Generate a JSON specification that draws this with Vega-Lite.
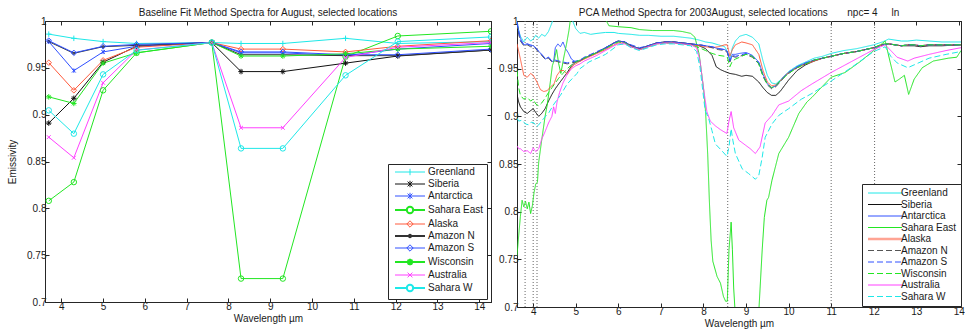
{
"$schema": "https://vega.github.io/schema/vega-lite/v6.json",
"background": "white",
"padding": {"left": 7, "top": 7, "right": 0, "bottom": 0},
"config": {
  "font": "Liberation Sans",
  "view": {"stroke": "#262626", "strokeWidth": 1},
  "axis": {"labelFontSize": 10, "labelColor": "#1a1a1a", "titleFontSize": 10, "titleFontWeight": "normal", "titleColor": "#1a1a1a", "grid": false, "domainColor": "#262626", "tickColor": "#262626", "tickSize": -4, "labelPadding": 3, "labelFont": "Liberation Sans", "titleFont": "Liberation Sans"},
  "title": {"fontSize": 10, "fontWeight": "normal", "anchor": "middle", "offset": -2, "frame": "group", "color": "#1a1a1a", "font": "Liberation Sans"},
  "legend": {"labelFontSize": 10, "labelFont": "Liberation Sans", "labelColor": "#1a1a1a"}
},
"datasets": {
"base": [
{"s":"Greenland","w":3.7,"e":0.986},{"s":"Greenland","w":4.3,"e":0.9815},{"s":"Greenland","w":5.0,"e":0.978},{"s":"Greenland","w":5.8,"e":0.976},{"s":"Greenland","w":7.6,"e":0.977},{"s":"Greenland","w":8.3,"e":0.976},{"s":"Greenland","w":9.3,"e":0.976},{"s":"Greenland","w":10.8,"e":0.9815},{"s":"Greenland","w":12.05,"e":0.976},{"s":"Greenland","w":14.28,"e":0.978},
{"s":"Siberia","w":3.7,"e":0.891},{"s":"Siberia","w":4.3,"e":0.9175},{"s":"Siberia","w":5.0,"e":0.956},{"s":"Siberia","w":5.8,"e":0.973},{"s":"Siberia","w":7.6,"e":0.977},{"s":"Siberia","w":8.3,"e":0.946},{"s":"Siberia","w":9.3,"e":0.946},{"s":"Siberia","w":10.8,"e":0.955},{"s":"Siberia","w":12.05,"e":0.9626},{"s":"Siberia","w":14.28,"e":0.969},
{"s":"Antarctica","w":3.7,"e":0.978},{"s":"Antarctica","w":4.3,"e":0.947},{"s":"Antarctica","w":5.0,"e":0.967},{"s":"Antarctica","w":5.8,"e":0.973},{"s":"Antarctica","w":7.6,"e":0.977},{"s":"Antarctica","w":8.3,"e":0.966},{"s":"Antarctica","w":9.3,"e":0.966},{"s":"Antarctica","w":10.8,"e":0.963},{"s":"Antarctica","w":12.05,"e":0.970},{"s":"Antarctica","w":14.28,"e":0.976},
{"s":"Sahara East","w":3.7,"e":0.808},{"s":"Sahara East","w":4.3,"e":0.828},{"s":"Sahara East","w":5.0,"e":0.926},{"s":"Sahara East","w":5.8,"e":0.966},{"s":"Sahara East","w":7.6,"e":0.977},{"s":"Sahara East","w":8.3,"e":0.725},{"s":"Sahara East","w":9.3,"e":0.725},{"s":"Sahara East","w":10.8,"e":0.962},{"s":"Sahara East","w":12.05,"e":0.984},{"s":"Sahara East","w":14.28,"e":0.989},
{"s":"Alaska","w":3.7,"e":0.9555},{"s":"Alaska","w":4.3,"e":0.926},{"s":"Alaska","w":5.0,"e":0.958},{"s":"Alaska","w":5.8,"e":0.972},{"s":"Alaska","w":7.6,"e":0.977},{"s":"Alaska","w":8.3,"e":0.970},{"s":"Alaska","w":9.3,"e":0.970},{"s":"Alaska","w":10.8,"e":0.967},{"s":"Alaska","w":12.05,"e":0.973},{"s":"Alaska","w":14.28,"e":0.979},
{"s":"Amazon N","w":3.7,"e":0.978},{"s":"Amazon N","w":4.3,"e":0.9655},{"s":"Amazon N","w":5.0,"e":0.9726},{"s":"Amazon N","w":5.8,"e":0.974},{"s":"Amazon N","w":7.6,"e":0.977},{"s":"Amazon N","w":8.3,"e":0.964},{"s":"Amazon N","w":9.3,"e":0.964},{"s":"Amazon N","w":10.8,"e":0.963},{"s":"Amazon N","w":12.05,"e":0.963},{"s":"Amazon N","w":14.28,"e":0.969},
{"s":"Amazon S","w":3.7,"e":0.979},{"s":"Amazon S","w":4.3,"e":0.966},{"s":"Amazon S","w":5.0,"e":0.973},{"s":"Amazon S","w":5.8,"e":0.975},{"s":"Amazon S","w":7.6,"e":0.977},{"s":"Amazon S","w":8.3,"e":0.967},{"s":"Amazon S","w":9.3,"e":0.967},{"s":"Amazon S","w":10.8,"e":0.964},{"s":"Amazon S","w":12.05,"e":0.964},{"s":"Amazon S","w":14.28,"e":0.970},
{"s":"Wisconsin","w":3.7,"e":0.919},{"s":"Wisconsin","w":4.3,"e":0.912},{"s":"Wisconsin","w":5.0,"e":0.955},{"s":"Wisconsin","w":5.8,"e":0.966},{"s":"Wisconsin","w":7.6,"e":0.977},{"s":"Wisconsin","w":8.3,"e":0.9626},{"s":"Wisconsin","w":9.3,"e":0.9626},{"s":"Wisconsin","w":10.8,"e":0.965},{"s":"Wisconsin","w":12.05,"e":0.970},{"s":"Wisconsin","w":14.28,"e":0.973},
{"s":"Australia","w":3.7,"e":0.876},{"s":"Australia","w":4.3,"e":0.854},{"s":"Australia","w":5.0,"e":0.934},{"s":"Australia","w":5.8,"e":0.969},{"s":"Australia","w":7.6,"e":0.977},{"s":"Australia","w":8.3,"e":0.886},{"s":"Australia","w":9.3,"e":0.886},{"s":"Australia","w":10.8,"e":0.961},{"s":"Australia","w":12.05,"e":0.972},{"s":"Australia","w":14.28,"e":0.977},
{"s":"Sahara W","w":3.7,"e":0.9046},{"s":"Sahara W","w":4.3,"e":0.8797},{"s":"Sahara W","w":5.0,"e":0.943},{"s":"Sahara W","w":5.8,"e":0.9687},{"s":"Sahara W","w":7.6,"e":0.977},{"s":"Sahara W","w":8.3,"e":0.864},{"s":"Sahara W","w":9.3,"e":0.864},{"s":"Sahara W","w":10.8,"e":0.942},{"s":"Sahara W","w":12.05,"e":0.978},{"s":"Sahara W","w":14.28,"e":0.983}
],
"pca": [
{"s":"Greenland","w":3.62,"e":0.999},{"s":"Greenland","w":3.66,"e":0.99},{"s":"Greenland","w":3.7,"e":0.984},{"s":"Greenland","w":3.78,"e":0.978},{"s":"Greenland","w":3.86,"e":0.983},{"s":"Greenland","w":3.94,"e":0.979},{"s":"Greenland","w":4.0,"e":0.981},{"s":"Greenland","w":4.06,"e":0.985},{"s":"Greenland","w":4.13,"e":0.982},{"s":"Greenland","w":4.2,"e":0.986},{"s":"Greenland","w":4.28,"e":0.984},{"s":"Greenland","w":4.36,"e":0.989},{"s":"Greenland","w":4.44,"e":0.998},{"s":"Greenland","w":4.52,"e":1.012},{"s":"Greenland","w":4.62,"e":1.02},{"s":"Greenland","w":4.72,"e":1.02},{"s":"Greenland","w":4.82,"e":1.01},{"s":"Greenland","w":4.9,"e":1.003},{"s":"Greenland","w":5.0,"e":0.992},{"s":"Greenland","w":5.1,"e":0.987},{"s":"Greenland","w":5.2,"e":0.988},{"s":"Greenland","w":5.35,"e":0.986},{"s":"Greenland","w":5.5,"e":0.987},{"s":"Greenland","w":5.7,"e":0.988},{"s":"Greenland","w":5.9,"e":0.988},{"s":"Greenland","w":6.0,"e":0.987},{"s":"Greenland","w":6.3,"e":0.986},{"s":"Greenland","w":6.5,"e":0.985},{"s":"Greenland","w":6.7,"e":0.985},{"s":"Greenland","w":7.0,"e":0.984},{"s":"Greenland","w":7.3,"e":0.984},{"s":"Greenland","w":7.5,"e":0.983},{"s":"Greenland","w":7.7,"e":0.982},{"s":"Greenland","w":7.9,"e":0.98},{"s":"Greenland","w":8.05,"e":0.978},{"s":"Greenland","w":8.2,"e":0.977},{"s":"Greenland","w":8.35,"e":0.975},{"s":"Greenland","w":8.5,"e":0.973},{"s":"Greenland","w":8.56,"e":0.968},{"s":"Greenland","w":8.62,"e":0.96},{"s":"Greenland","w":8.68,"e":0.972},{"s":"Greenland","w":8.75,"e":0.979},{"s":"Greenland","w":8.85,"e":0.984},{"s":"Greenland","w":9.0,"e":0.986},{"s":"Greenland","w":9.15,"e":0.983},{"s":"Greenland","w":9.3,"e":0.976},{"s":"Greenland","w":9.4,"e":0.958},{"s":"Greenland","w":9.5,"e":0.943},{"s":"Greenland","w":9.6,"e":0.935},{"s":"Greenland","w":9.7,"e":0.934},{"s":"Greenland","w":9.8,"e":0.938},{"s":"Greenland","w":9.9,"e":0.942},{"s":"Greenland","w":10.0,"e":0.947},{"s":"Greenland","w":10.2,"e":0.953},{"s":"Greenland","w":10.4,"e":0.957},{"s":"Greenland","w":10.6,"e":0.961},{"s":"Greenland","w":10.8,"e":0.963},{"s":"Greenland","w":11.0,"e":0.966},{"s":"Greenland","w":11.3,"e":0.969},{"s":"Greenland","w":11.6,"e":0.971},{"s":"Greenland","w":12.0,"e":0.975},{"s":"Greenland","w":12.2,"e":0.978},{"s":"Greenland","w":12.35,"e":0.981},{"s":"Greenland","w":12.5,"e":0.98},{"s":"Greenland","w":12.65,"e":0.979},{"s":"Greenland","w":12.8,"e":0.979},{"s":"Greenland","w":13.0,"e":0.98},{"s":"Greenland","w":13.3,"e":0.979},{"s":"Greenland","w":13.6,"e":0.978},{"s":"Greenland","w":14.05,"e":0.978},
{"s":"Siberia","w":3.62,"e":0.923},{"s":"Siberia","w":3.66,"e":0.915},{"s":"Siberia","w":3.7,"e":0.91},{"s":"Siberia","w":3.78,"e":0.905},{"s":"Siberia","w":3.86,"e":0.903},{"s":"Siberia","w":3.94,"e":0.906},{"s":"Siberia","w":4.0,"e":0.908},{"s":"Siberia","w":4.06,"e":0.904},{"s":"Siberia","w":4.13,"e":0.9},{"s":"Siberia","w":4.2,"e":0.903},{"s":"Siberia","w":4.28,"e":0.908},{"s":"Siberia","w":4.36,"e":0.916},{"s":"Siberia","w":4.44,"e":0.923},{"s":"Siberia","w":4.52,"e":0.929},{"s":"Siberia","w":4.6,"e":0.934},{"s":"Siberia","w":4.7,"e":0.94},{"s":"Siberia","w":4.8,"e":0.946},{"s":"Siberia","w":4.9,"e":0.953},{"s":"Siberia","w":5.0,"e":0.957},{"s":"Siberia","w":5.1,"e":0.958},{"s":"Siberia","w":5.2,"e":0.961},{"s":"Siberia","w":5.35,"e":0.964},{"s":"Siberia","w":5.5,"e":0.967},{"s":"Siberia","w":5.7,"e":0.972},{"s":"Siberia","w":5.9,"e":0.977},{"s":"Siberia","w":6.0,"e":0.979},{"s":"Siberia","w":6.15,"e":0.978},{"s":"Siberia","w":6.3,"e":0.974},{"s":"Siberia","w":6.5,"e":0.971},{"s":"Siberia","w":6.7,"e":0.974},{"s":"Siberia","w":6.9,"e":0.977},{"s":"Siberia","w":7.1,"e":0.978},{"s":"Siberia","w":7.3,"e":0.978},{"s":"Siberia","w":7.5,"e":0.977},{"s":"Siberia","w":7.7,"e":0.976},{"s":"Siberia","w":7.9,"e":0.974},{"s":"Siberia","w":8.05,"e":0.971},{"s":"Siberia","w":8.2,"e":0.964},{"s":"Siberia","w":8.3,"e":0.952},{"s":"Siberia","w":8.4,"e":0.949},{"s":"Siberia","w":8.5,"e":0.947},{"s":"Siberia","w":8.62,"e":0.945},{"s":"Siberia","w":8.75,"e":0.944},{"s":"Siberia","w":8.9,"e":0.942},{"s":"Siberia","w":9.0,"e":0.943},{"s":"Siberia","w":9.15,"e":0.942},{"s":"Siberia","w":9.3,"e":0.936},{"s":"Siberia","w":9.4,"e":0.93},{"s":"Siberia","w":9.5,"e":0.925},{"s":"Siberia","w":9.6,"e":0.922},{"s":"Siberia","w":9.7,"e":0.922},{"s":"Siberia","w":9.8,"e":0.926},{"s":"Siberia","w":9.9,"e":0.932},{"s":"Siberia","w":10.0,"e":0.938},{"s":"Siberia","w":10.2,"e":0.948},{"s":"Siberia","w":10.4,"e":0.954},{"s":"Siberia","w":10.6,"e":0.958},{"s":"Siberia","w":10.8,"e":0.961},{"s":"Siberia","w":11.0,"e":0.963},{"s":"Siberia","w":11.3,"e":0.966},{"s":"Siberia","w":11.6,"e":0.968},{"s":"Siberia","w":12.0,"e":0.972},{"s":"Siberia","w":12.2,"e":0.975},{"s":"Siberia","w":12.35,"e":0.976},{"s":"Siberia","w":12.5,"e":0.975},{"s":"Siberia","w":12.65,"e":0.974},{"s":"Siberia","w":12.8,"e":0.974},{"s":"Siberia","w":12.95,"e":0.974},{"s":"Siberia","w":13.1,"e":0.973},{"s":"Siberia","w":13.3,"e":0.974},{"s":"Siberia","w":13.6,"e":0.974},{"s":"Siberia","w":14.05,"e":0.975},
{"s":"Antarctica","w":3.62,"e":0.999},{"s":"Antarctica","w":3.66,"e":0.99},{"s":"Antarctica","w":3.7,"e":0.982},{"s":"Antarctica","w":3.78,"e":0.975},{"s":"Antarctica","w":3.86,"e":0.976},{"s":"Antarctica","w":3.94,"e":0.975},{"s":"Antarctica","w":4.0,"e":0.974},{"s":"Antarctica","w":4.06,"e":0.972},{"s":"Antarctica","w":4.13,"e":0.968},{"s":"Antarctica","w":4.2,"e":0.965},{"s":"Antarctica","w":4.28,"e":0.96},{"s":"Antarctica","w":4.36,"e":0.962},{"s":"Antarctica","w":4.44,"e":0.958},{"s":"Antarctica","w":4.48,"e":0.957},{"s":"Antarctica","w":4.52,"e":0.972},{"s":"Antarctica","w":4.58,"e":0.976},{"s":"Antarctica","w":4.64,"e":0.973},{"s":"Antarctica","w":4.7,"e":0.978},{"s":"Antarctica","w":4.76,"e":0.971},{"s":"Antarctica","w":4.82,"e":0.967},{"s":"Antarctica","w":4.9,"e":0.96},{"s":"Antarctica","w":5.0,"e":0.957},{"s":"Antarctica","w":5.1,"e":0.958},{"s":"Antarctica","w":5.2,"e":0.961},{"s":"Antarctica","w":5.35,"e":0.964},{"s":"Antarctica","w":5.5,"e":0.967},{"s":"Antarctica","w":5.7,"e":0.972},{"s":"Antarctica","w":5.9,"e":0.977},{"s":"Antarctica","w":6.0,"e":0.979},{"s":"Antarctica","w":6.15,"e":0.978},{"s":"Antarctica","w":6.3,"e":0.974},{"s":"Antarctica","w":6.5,"e":0.971},{"s":"Antarctica","w":6.7,"e":0.974},{"s":"Antarctica","w":6.9,"e":0.977},{"s":"Antarctica","w":7.1,"e":0.978},{"s":"Antarctica","w":7.3,"e":0.978},{"s":"Antarctica","w":7.5,"e":0.977},{"s":"Antarctica","w":7.7,"e":0.976},{"s":"Antarctica","w":7.9,"e":0.975},{"s":"Antarctica","w":8.05,"e":0.974},{"s":"Antarctica","w":8.2,"e":0.973},{"s":"Antarctica","w":8.35,"e":0.971},{"s":"Antarctica","w":8.5,"e":0.970},{"s":"Antarctica","w":8.56,"e":0.968},{"s":"Antarctica","w":8.62,"e":0.958},{"s":"Antarctica","w":8.68,"e":0.965},{"s":"Antarctica","w":8.75,"e":0.965},{"s":"Antarctica","w":8.85,"e":0.966},{"s":"Antarctica","w":9.0,"e":0.967},{"s":"Antarctica","w":9.15,"e":0.964},{"s":"Antarctica","w":9.3,"e":0.957},{"s":"Antarctica","w":9.4,"e":0.944},{"s":"Antarctica","w":9.5,"e":0.934},{"s":"Antarctica","w":9.6,"e":0.930},{"s":"Antarctica","w":9.7,"e":0.932},{"s":"Antarctica","w":9.8,"e":0.937},{"s":"Antarctica","w":9.9,"e":0.942},{"s":"Antarctica","w":10.0,"e":0.946},{"s":"Antarctica","w":10.2,"e":0.952},{"s":"Antarctica","w":10.4,"e":0.956},{"s":"Antarctica","w":10.6,"e":0.959},{"s":"Antarctica","w":10.8,"e":0.961},{"s":"Antarctica","w":11.0,"e":0.963},{"s":"Antarctica","w":11.3,"e":0.966},{"s":"Antarctica","w":11.6,"e":0.968},{"s":"Antarctica","w":12.0,"e":0.972},{"s":"Antarctica","w":12.2,"e":0.975},{"s":"Antarctica","w":12.35,"e":0.976},{"s":"Antarctica","w":12.5,"e":0.975},{"s":"Antarctica","w":12.65,"e":0.974},{"s":"Antarctica","w":12.8,"e":0.975},{"s":"Antarctica","w":12.95,"e":0.975},{"s":"Antarctica","w":13.1,"e":0.974},{"s":"Antarctica","w":13.3,"e":0.975},{"s":"Antarctica","w":13.6,"e":0.975},{"s":"Antarctica","w":14.05,"e":0.975},
{"s":"Sahara East","w":3.62,"e":0.754},{"s":"Sahara East","w":3.66,"e":0.775},{"s":"Sahara East","w":3.7,"e":0.795},{"s":"Sahara East","w":3.74,"e":0.812},{"s":"Sahara East","w":3.78,"e":0.805},{"s":"Sahara East","w":3.82,"e":0.811},{"s":"Sahara East","w":3.86,"e":0.803},{"s":"Sahara East","w":3.9,"e":0.81},{"s":"Sahara East","w":3.94,"e":0.798},{"s":"Sahara East","w":3.98,"e":0.806},{"s":"Sahara East","w":4.02,"e":0.82},{"s":"Sahara East","w":4.06,"e":0.829},{"s":"Sahara East","w":4.1,"e":0.831},{"s":"Sahara East","w":4.13,"e":0.852},{"s":"Sahara East","w":4.2,"e":0.875},{"s":"Sahara East","w":4.28,"e":0.9},{"s":"Sahara East","w":4.33,"e":0.912},{"s":"Sahara East","w":4.4,"e":0.935},{"s":"Sahara East","w":4.45,"e":0.953},{"s":"Sahara East","w":4.5,"e":0.96},{"s":"Sahara East","w":4.55,"e":0.97},{"s":"Sahara East","w":4.6,"e":0.955},{"s":"Sahara East","w":4.65,"e":0.945},{"s":"Sahara East","w":4.72,"e":0.962},{"s":"Sahara East","w":4.78,"e":0.975},{"s":"Sahara East","w":4.84,"e":0.99},{"s":"Sahara East","w":4.9,"e":1.01},{"s":"Sahara East","w":5.0,"e":1.03},{"s":"Sahara East","w":5.3,"e":1.03},{"s":"Sahara East","w":5.6,"e":1.02},{"s":"Sahara East","w":5.72,"e":1.0},{"s":"Sahara East","w":5.78,"e":0.995},{"s":"Sahara East","w":6.0,"e":0.994},{"s":"Sahara East","w":6.3,"e":0.993},{"s":"Sahara East","w":6.5,"e":0.991},{"s":"Sahara East","w":6.8,"e":0.99},{"s":"Sahara East","w":7.0,"e":0.99},{"s":"Sahara East","w":7.3,"e":0.99},{"s":"Sahara East","w":7.5,"e":0.989},{"s":"Sahara East","w":7.7,"e":0.987},{"s":"Sahara East","w":7.8,"e":0.983},{"s":"Sahara East","w":7.9,"e":0.965},{"s":"Sahara East","w":8.0,"e":0.93},{"s":"Sahara East","w":8.05,"e":0.905},{"s":"Sahara East","w":8.1,"e":0.86},{"s":"Sahara East","w":8.14,"e":0.81},{"s":"Sahara East","w":8.18,"e":0.77},{"s":"Sahara East","w":8.22,"e":0.748},{"s":"Sahara East","w":8.32,"e":0.732},{"s":"Sahara East","w":8.4,"e":0.725},{"s":"Sahara East","w":8.47,"e":0.711},{"s":"Sahara East","w":8.52,"e":0.706},{"s":"Sahara East","w":8.56,"e":0.706},{"s":"Sahara East","w":8.6,"e":0.76},{"s":"Sahara East","w":8.65,"e":0.789},{"s":"Sahara East","w":8.68,"e":0.76},{"s":"Sahara East","w":8.71,"e":0.72},{"s":"Sahara East","w":8.75,"e":0.69},{"s":"Sahara East","w":8.8,"e":0.68},{"s":"Sahara East","w":9.25,"e":0.68},{"s":"Sahara East","w":9.3,"e":0.695},{"s":"Sahara East","w":9.38,"e":0.76},{"s":"Sahara East","w":9.43,"e":0.794},{"s":"Sahara East","w":9.49,"e":0.812},{"s":"Sahara East","w":9.53,"e":0.815},{"s":"Sahara East","w":9.61,"e":0.833},{"s":"Sahara East","w":9.77,"e":0.861},{"s":"Sahara East","w":10.0,"e":0.878},{"s":"Sahara East","w":10.24,"e":0.903},{"s":"Sahara East","w":10.43,"e":0.915},{"s":"Sahara East","w":10.55,"e":0.92},{"s":"Sahara East","w":11.0,"e":0.941},{"s":"Sahara East","w":11.33,"e":0.946},{"s":"Sahara East","w":11.7,"e":0.958},{"s":"Sahara East","w":12.0,"e":0.969},{"s":"Sahara East","w":12.27,"e":0.979},{"s":"Sahara East","w":12.38,"e":0.958},{"s":"Sahara East","w":12.5,"e":0.936},{"s":"Sahara East","w":12.6,"e":0.939},{"s":"Sahara East","w":12.72,"e":0.943},{"s":"Sahara East","w":12.82,"e":0.923},{"s":"Sahara East","w":12.95,"e":0.939},{"s":"Sahara East","w":13.14,"e":0.951},{"s":"Sahara East","w":13.4,"e":0.958},{"s":"Sahara East","w":13.75,"e":0.961},{"s":"Sahara East","w":13.95,"e":0.962},{"s":"Sahara East","w":14.05,"e":0.969},
{"s":"Alaska","w":3.62,"e":0.976},{"s":"Alaska","w":3.66,"e":0.968},{"s":"Alaska","w":3.7,"e":0.96},{"s":"Alaska","w":3.78,"e":0.943},{"s":"Alaska","w":3.86,"e":0.941},{"s":"Alaska","w":3.94,"e":0.945},{"s":"Alaska","w":4.0,"e":0.943},{"s":"Alaska","w":4.09,"e":0.936},{"s":"Alaska","w":4.17,"e":0.928},{"s":"Alaska","w":4.25,"e":0.926},{"s":"Alaska","w":4.33,"e":0.927},{"s":"Alaska","w":4.41,"e":0.931},{"s":"Alaska","w":4.49,"e":0.934},{"s":"Alaska","w":4.56,"e":0.943},{"s":"Alaska","w":4.64,"e":0.948},{"s":"Alaska","w":4.72,"e":0.948},{"s":"Alaska","w":4.8,"e":0.944},{"s":"Alaska","w":4.88,"e":0.95},{"s":"Alaska","w":4.96,"e":0.954},{"s":"Alaska","w":5.07,"e":0.957},{"s":"Alaska","w":5.2,"e":0.96},{"s":"Alaska","w":5.35,"e":0.963},{"s":"Alaska","w":5.5,"e":0.966},{"s":"Alaska","w":5.7,"e":0.970},{"s":"Alaska","w":5.9,"e":0.975},{"s":"Alaska","w":6.0,"e":0.977},{"s":"Alaska","w":6.15,"e":0.977},{"s":"Alaska","w":6.3,"e":0.973},{"s":"Alaska","w":6.5,"e":0.970},{"s":"Alaska","w":6.7,"e":0.973},{"s":"Alaska","w":6.9,"e":0.976},{"s":"Alaska","w":7.1,"e":0.977},{"s":"Alaska","w":7.3,"e":0.977},{"s":"Alaska","w":7.5,"e":0.976},{"s":"Alaska","w":7.7,"e":0.975},{"s":"Alaska","w":7.9,"e":0.974},{"s":"Alaska","w":8.05,"e":0.973},{"s":"Alaska","w":8.2,"e":0.972},{"s":"Alaska","w":8.35,"e":0.973},{"s":"Alaska","w":8.5,"e":0.975},{"s":"Alaska","w":8.56,"e":0.975},{"s":"Alaska","w":8.62,"e":0.963},{"s":"Alaska","w":8.68,"e":0.970},{"s":"Alaska","w":8.75,"e":0.975},{"s":"Alaska","w":8.9,"e":0.978},{"s":"Alaska","w":9.0,"e":0.977},{"s":"Alaska","w":9.15,"e":0.975},{"s":"Alaska","w":9.3,"e":0.965},{"s":"Alaska","w":9.4,"e":0.948},{"s":"Alaska","w":9.5,"e":0.936},{"s":"Alaska","w":9.6,"e":0.932},{"s":"Alaska","w":9.7,"e":0.933},{"s":"Alaska","w":9.8,"e":0.937},{"s":"Alaska","w":9.9,"e":0.942},{"s":"Alaska","w":10.0,"e":0.946},{"s":"Alaska","w":10.2,"e":0.951},{"s":"Alaska","w":10.4,"e":0.955},{"s":"Alaska","w":10.6,"e":0.958},{"s":"Alaska","w":10.8,"e":0.961},{"s":"Alaska","w":11.0,"e":0.963},{"s":"Alaska","w":11.3,"e":0.966},{"s":"Alaska","w":11.6,"e":0.968},{"s":"Alaska","w":12.0,"e":0.972},{"s":"Alaska","w":12.2,"e":0.975},{"s":"Alaska","w":12.35,"e":0.976},{"s":"Alaska","w":12.5,"e":0.975},{"s":"Alaska","w":12.65,"e":0.974},{"s":"Alaska","w":12.8,"e":0.975},{"s":"Alaska","w":12.95,"e":0.975},{"s":"Alaska","w":13.1,"e":0.974},{"s":"Alaska","w":13.3,"e":0.975},{"s":"Alaska","w":13.6,"e":0.975},{"s":"Alaska","w":14.05,"e":0.975},
{"s":"Amazon N","w":3.62,"e":0.998},{"s":"Amazon N","w":3.66,"e":0.986},{"s":"Amazon N","w":3.7,"e":0.979},{"s":"Amazon N","w":3.78,"e":0.974},{"s":"Amazon N","w":3.86,"e":0.975},{"s":"Amazon N","w":3.94,"e":0.973},{"s":"Amazon N","w":4.0,"e":0.973},{"s":"Amazon N","w":4.06,"e":0.971},{"s":"Amazon N","w":4.13,"e":0.967},{"s":"Amazon N","w":4.2,"e":0.964},{"s":"Amazon N","w":4.28,"e":0.96},{"s":"Amazon N","w":4.36,"e":0.961},{"s":"Amazon N","w":4.44,"e":0.957},{"s":"Amazon N","w":4.52,"e":0.958},{"s":"Amazon N","w":4.6,"e":0.957},{"s":"Amazon N","w":4.7,"e":0.956},{"s":"Amazon N","w":4.8,"e":0.955},{"s":"Amazon N","w":4.9,"e":0.956},{"s":"Amazon N","w":5.0,"e":0.957},{"s":"Amazon N","w":5.1,"e":0.959},{"s":"Amazon N","w":5.2,"e":0.961},{"s":"Amazon N","w":5.35,"e":0.964},{"s":"Amazon N","w":5.5,"e":0.967},{"s":"Amazon N","w":5.7,"e":0.971},{"s":"Amazon N","w":5.9,"e":0.977},{"s":"Amazon N","w":6.0,"e":0.979},{"s":"Amazon N","w":6.15,"e":0.978},{"s":"Amazon N","w":6.3,"e":0.974},{"s":"Amazon N","w":6.5,"e":0.971},{"s":"Amazon N","w":6.7,"e":0.974},{"s":"Amazon N","w":6.9,"e":0.977},{"s":"Amazon N","w":7.1,"e":0.978},{"s":"Amazon N","w":7.3,"e":0.978},{"s":"Amazon N","w":7.5,"e":0.977},{"s":"Amazon N","w":7.7,"e":0.976},{"s":"Amazon N","w":7.9,"e":0.975},{"s":"Amazon N","w":8.05,"e":0.974},{"s":"Amazon N","w":8.2,"e":0.972},{"s":"Amazon N","w":8.35,"e":0.970},{"s":"Amazon N","w":8.5,"e":0.969},{"s":"Amazon N","w":8.56,"e":0.967},{"s":"Amazon N","w":8.62,"e":0.957},{"s":"Amazon N","w":8.68,"e":0.963},{"s":"Amazon N","w":8.75,"e":0.962},{"s":"Amazon N","w":8.85,"e":0.963},{"s":"Amazon N","w":9.0,"e":0.965},{"s":"Amazon N","w":9.15,"e":0.962},{"s":"Amazon N","w":9.3,"e":0.955},{"s":"Amazon N","w":9.4,"e":0.942},{"s":"Amazon N","w":9.5,"e":0.933},{"s":"Amazon N","w":9.6,"e":0.929},{"s":"Amazon N","w":9.7,"e":0.931},{"s":"Amazon N","w":9.8,"e":0.936},{"s":"Amazon N","w":9.9,"e":0.941},{"s":"Amazon N","w":10.0,"e":0.945},{"s":"Amazon N","w":10.2,"e":0.951},{"s":"Amazon N","w":10.4,"e":0.955},{"s":"Amazon N","w":10.6,"e":0.959},{"s":"Amazon N","w":10.8,"e":0.961},{"s":"Amazon N","w":11.0,"e":0.963},{"s":"Amazon N","w":11.3,"e":0.966},{"s":"Amazon N","w":11.6,"e":0.968},{"s":"Amazon N","w":12.0,"e":0.972},{"s":"Amazon N","w":12.2,"e":0.975},{"s":"Amazon N","w":12.35,"e":0.976},{"s":"Amazon N","w":12.5,"e":0.975},{"s":"Amazon N","w":12.65,"e":0.974},{"s":"Amazon N","w":12.8,"e":0.975},{"s":"Amazon N","w":12.95,"e":0.975},{"s":"Amazon N","w":13.1,"e":0.974},{"s":"Amazon N","w":13.3,"e":0.975},{"s":"Amazon N","w":13.6,"e":0.975},{"s":"Amazon N","w":14.05,"e":0.975},
{"s":"Amazon S","w":3.62,"e":0.999},{"s":"Amazon S","w":3.66,"e":0.988},{"s":"Amazon S","w":3.7,"e":0.98},{"s":"Amazon S","w":3.78,"e":0.975},{"s":"Amazon S","w":3.86,"e":0.976},{"s":"Amazon S","w":3.94,"e":0.974},{"s":"Amazon S","w":4.0,"e":0.974},{"s":"Amazon S","w":4.06,"e":0.972},{"s":"Amazon S","w":4.13,"e":0.968},{"s":"Amazon S","w":4.2,"e":0.965},{"s":"Amazon S","w":4.28,"e":0.961},{"s":"Amazon S","w":4.36,"e":0.962},{"s":"Amazon S","w":4.44,"e":0.958},{"s":"Amazon S","w":4.52,"e":0.959},{"s":"Amazon S","w":4.6,"e":0.958},{"s":"Amazon S","w":4.7,"e":0.957},{"s":"Amazon S","w":4.8,"e":0.956},{"s":"Amazon S","w":4.9,"e":0.957},{"s":"Amazon S","w":5.0,"e":0.958},{"s":"Amazon S","w":5.1,"e":0.959},{"s":"Amazon S","w":5.2,"e":0.962},{"s":"Amazon S","w":5.35,"e":0.965},{"s":"Amazon S","w":5.5,"e":0.968},{"s":"Amazon S","w":5.7,"e":0.972},{"s":"Amazon S","w":5.9,"e":0.977},{"s":"Amazon S","w":6.0,"e":0.979},{"s":"Amazon S","w":6.15,"e":0.978},{"s":"Amazon S","w":6.3,"e":0.975},{"s":"Amazon S","w":6.5,"e":0.972},{"s":"Amazon S","w":6.7,"e":0.974},{"s":"Amazon S","w":6.9,"e":0.977},{"s":"Amazon S","w":7.1,"e":0.978},{"s":"Amazon S","w":7.3,"e":0.978},{"s":"Amazon S","w":7.5,"e":0.977},{"s":"Amazon S","w":7.7,"e":0.976},{"s":"Amazon S","w":7.9,"e":0.975},{"s":"Amazon S","w":8.05,"e":0.974},{"s":"Amazon S","w":8.2,"e":0.973},{"s":"Amazon S","w":8.35,"e":0.971},{"s":"Amazon S","w":8.5,"e":0.970},{"s":"Amazon S","w":8.56,"e":0.968},{"s":"Amazon S","w":8.62,"e":0.958},{"s":"Amazon S","w":8.68,"e":0.964},{"s":"Amazon S","w":8.75,"e":0.963},{"s":"Amazon S","w":8.85,"e":0.964},{"s":"Amazon S","w":9.0,"e":0.966},{"s":"Amazon S","w":9.15,"e":0.963},{"s":"Amazon S","w":9.3,"e":0.956},{"s":"Amazon S","w":9.4,"e":0.943},{"s":"Amazon S","w":9.5,"e":0.934},{"s":"Amazon S","w":9.6,"e":0.930},{"s":"Amazon S","w":9.7,"e":0.932},{"s":"Amazon S","w":9.8,"e":0.937},{"s":"Amazon S","w":9.9,"e":0.942},{"s":"Amazon S","w":10.0,"e":0.946},{"s":"Amazon S","w":10.2,"e":0.952},{"s":"Amazon S","w":10.4,"e":0.956},{"s":"Amazon S","w":10.6,"e":0.959},{"s":"Amazon S","w":10.8,"e":0.961},{"s":"Amazon S","w":11.0,"e":0.963},{"s":"Amazon S","w":11.3,"e":0.966},{"s":"Amazon S","w":11.6,"e":0.968},{"s":"Amazon S","w":12.0,"e":0.972},{"s":"Amazon S","w":12.2,"e":0.975},{"s":"Amazon S","w":12.35,"e":0.976},{"s":"Amazon S","w":12.5,"e":0.975},{"s":"Amazon S","w":12.65,"e":0.974},{"s":"Amazon S","w":12.8,"e":0.975},{"s":"Amazon S","w":12.95,"e":0.975},{"s":"Amazon S","w":13.1,"e":0.974},{"s":"Amazon S","w":13.3,"e":0.975},{"s":"Amazon S","w":13.6,"e":0.975},{"s":"Amazon S","w":14.05,"e":0.975},
{"s":"Wisconsin","w":3.62,"e":0.948},{"s":"Wisconsin","w":3.66,"e":0.93},{"s":"Wisconsin","w":3.7,"e":0.922},{"s":"Wisconsin","w":3.78,"e":0.918},{"s":"Wisconsin","w":3.86,"e":0.92},{"s":"Wisconsin","w":3.94,"e":0.916},{"s":"Wisconsin","w":4.0,"e":0.918},{"s":"Wisconsin","w":4.06,"e":0.913},{"s":"Wisconsin","w":4.13,"e":0.911},{"s":"Wisconsin","w":4.2,"e":0.914},{"s":"Wisconsin","w":4.28,"e":0.919},{"s":"Wisconsin","w":4.36,"e":0.925},{"s":"Wisconsin","w":4.44,"e":0.93},{"s":"Wisconsin","w":4.52,"e":0.935},{"s":"Wisconsin","w":4.6,"e":0.94},{"s":"Wisconsin","w":4.7,"e":0.945},{"s":"Wisconsin","w":4.8,"e":0.95},{"s":"Wisconsin","w":4.9,"e":0.954},{"s":"Wisconsin","w":5.0,"e":0.957},{"s":"Wisconsin","w":5.1,"e":0.959},{"s":"Wisconsin","w":5.2,"e":0.961},{"s":"Wisconsin","w":5.35,"e":0.964},{"s":"Wisconsin","w":5.5,"e":0.967},{"s":"Wisconsin","w":5.7,"e":0.971},{"s":"Wisconsin","w":5.9,"e":0.976},{"s":"Wisconsin","w":6.0,"e":0.978},{"s":"Wisconsin","w":6.15,"e":0.977},{"s":"Wisconsin","w":6.3,"e":0.973},{"s":"Wisconsin","w":6.5,"e":0.970},{"s":"Wisconsin","w":6.7,"e":0.973},{"s":"Wisconsin","w":6.9,"e":0.976},{"s":"Wisconsin","w":7.1,"e":0.977},{"s":"Wisconsin","w":7.3,"e":0.977},{"s":"Wisconsin","w":7.5,"e":0.976},{"s":"Wisconsin","w":7.7,"e":0.975},{"s":"Wisconsin","w":7.9,"e":0.972},{"s":"Wisconsin","w":8.05,"e":0.969},{"s":"Wisconsin","w":8.2,"e":0.966},{"s":"Wisconsin","w":8.35,"e":0.964},{"s":"Wisconsin","w":8.5,"e":0.963},{"s":"Wisconsin","w":8.56,"e":0.962},{"s":"Wisconsin","w":8.62,"e":0.952},{"s":"Wisconsin","w":8.68,"e":0.958},{"s":"Wisconsin","w":8.75,"e":0.96},{"s":"Wisconsin","w":8.9,"e":0.963},{"s":"Wisconsin","w":9.0,"e":0.965},{"s":"Wisconsin","w":9.15,"e":0.963},{"s":"Wisconsin","w":9.3,"e":0.955},{"s":"Wisconsin","w":9.4,"e":0.942},{"s":"Wisconsin","w":9.5,"e":0.934},{"s":"Wisconsin","w":9.6,"e":0.930},{"s":"Wisconsin","w":9.7,"e":0.932},{"s":"Wisconsin","w":9.8,"e":0.937},{"s":"Wisconsin","w":9.9,"e":0.941},{"s":"Wisconsin","w":10.0,"e":0.945},{"s":"Wisconsin","w":10.2,"e":0.951},{"s":"Wisconsin","w":10.4,"e":0.955},{"s":"Wisconsin","w":10.6,"e":0.959},{"s":"Wisconsin","w":10.8,"e":0.961},{"s":"Wisconsin","w":11.0,"e":0.963},{"s":"Wisconsin","w":11.3,"e":0.966},{"s":"Wisconsin","w":11.6,"e":0.968},{"s":"Wisconsin","w":12.0,"e":0.972},{"s":"Wisconsin","w":12.2,"e":0.976},{"s":"Wisconsin","w":12.35,"e":0.976},{"s":"Wisconsin","w":12.5,"e":0.975},{"s":"Wisconsin","w":12.65,"e":0.974},{"s":"Wisconsin","w":12.8,"e":0.975},{"s":"Wisconsin","w":12.95,"e":0.975},{"s":"Wisconsin","w":13.1,"e":0.974},{"s":"Wisconsin","w":13.3,"e":0.975},{"s":"Wisconsin","w":13.6,"e":0.975},{"s":"Wisconsin","w":14.05,"e":0.975},
{"s":"Australia","w":3.62,"e":0.869},{"s":"Australia","w":3.66,"e":0.866},{"s":"Australia","w":3.7,"e":0.866},{"s":"Australia","w":3.78,"e":0.863},{"s":"Australia","w":3.86,"e":0.864},{"s":"Australia","w":3.94,"e":0.861},{"s":"Australia","w":4.0,"e":0.867},{"s":"Australia","w":4.06,"e":0.863},{"s":"Australia","w":4.13,"e":0.866},{"s":"Australia","w":4.2,"e":0.876},{"s":"Australia","w":4.28,"e":0.884},{"s":"Australia","w":4.36,"e":0.893},{"s":"Australia","w":4.44,"e":0.9},{"s":"Australia","w":4.48,"e":0.91},{"s":"Australia","w":4.52,"e":0.903},{"s":"Australia","w":4.56,"e":0.915},{"s":"Australia","w":4.62,"e":0.925},{"s":"Australia","w":4.7,"e":0.935},{"s":"Australia","w":4.8,"e":0.944},{"s":"Australia","w":4.9,"e":0.95},{"s":"Australia","w":5.0,"e":0.953},{"s":"Australia","w":5.1,"e":0.955},{"s":"Australia","w":5.2,"e":0.958},{"s":"Australia","w":5.35,"e":0.961},{"s":"Australia","w":5.5,"e":0.964},{"s":"Australia","w":5.7,"e":0.969},{"s":"Australia","w":5.9,"e":0.974},{"s":"Australia","w":6.0,"e":0.976},{"s":"Australia","w":6.15,"e":0.976},{"s":"Australia","w":6.3,"e":0.973},{"s":"Australia","w":6.5,"e":0.970},{"s":"Australia","w":6.7,"e":0.973},{"s":"Australia","w":6.9,"e":0.976},{"s":"Australia","w":7.1,"e":0.977},{"s":"Australia","w":7.3,"e":0.977},{"s":"Australia","w":7.5,"e":0.976},{"s":"Australia","w":7.7,"e":0.975},{"s":"Australia","w":7.84,"e":0.972},{"s":"Australia","w":7.92,"e":0.958},{"s":"Australia","w":8.0,"e":0.93},{"s":"Australia","w":8.08,"e":0.905},{"s":"Australia","w":8.16,"e":0.895},{"s":"Australia","w":8.28,"e":0.89},{"s":"Australia","w":8.4,"e":0.886},{"s":"Australia","w":8.55,"e":0.882},{"s":"Australia","w":8.6,"e":0.895},{"s":"Australia","w":8.65,"e":0.905},{"s":"Australia","w":8.71,"e":0.888},{"s":"Australia","w":8.83,"e":0.875},{"s":"Australia","w":8.98,"e":0.870},{"s":"Australia","w":9.1,"e":0.866},{"s":"Australia","w":9.22,"e":0.861},{"s":"Australia","w":9.33,"e":0.868},{"s":"Australia","w":9.45,"e":0.893},{"s":"Australia","w":9.61,"e":0.901},{"s":"Australia","w":9.77,"e":0.912},{"s":"Australia","w":10.0,"e":0.916},{"s":"Australia","w":10.3,"e":0.927},{"s":"Australia","w":10.55,"e":0.934},{"s":"Australia","w":11.0,"e":0.946},{"s":"Australia","w":11.5,"e":0.958},{"s":"Australia","w":12.0,"e":0.97},{"s":"Australia","w":12.27,"e":0.975},{"s":"Australia","w":12.4,"e":0.969},{"s":"Australia","w":12.55,"e":0.962},{"s":"Australia","w":12.8,"e":0.958},{"s":"Australia","w":12.95,"e":0.961},{"s":"Australia","w":13.3,"e":0.965},{"s":"Australia","w":13.7,"e":0.969},{"s":"Australia","w":14.05,"e":0.972},
{"s":"Sahara W","w":3.62,"e":0.898},{"s":"Sahara W","w":3.66,"e":0.895},{"s":"Sahara W","w":3.74,"e":0.896},{"s":"Sahara W","w":3.82,"e":0.892},{"s":"Sahara W","w":3.9,"e":0.891},{"s":"Sahara W","w":3.96,"e":0.894},{"s":"Sahara W","w":4.02,"e":0.893},{"s":"Sahara W","w":4.08,"e":0.889},{"s":"Sahara W","w":4.13,"e":0.891},{"s":"Sahara W","w":4.2,"e":0.895},{"s":"Sahara W","w":4.25,"e":0.898},{"s":"Sahara W","w":4.37,"e":0.904},{"s":"Sahara W","w":4.49,"e":0.913},{"s":"Sahara W","w":4.64,"e":0.922},{"s":"Sahara W","w":4.8,"e":0.934},{"s":"Sahara W","w":5.03,"e":0.945},{"s":"Sahara W","w":5.1,"e":0.95},{"s":"Sahara W","w":5.31,"e":0.957},{"s":"Sahara W","w":5.7,"e":0.965},{"s":"Sahara W","w":6.0,"e":0.975},{"s":"Sahara W","w":6.15,"e":0.976},{"s":"Sahara W","w":6.3,"e":0.972},{"s":"Sahara W","w":6.5,"e":0.969},{"s":"Sahara W","w":6.7,"e":0.972},{"s":"Sahara W","w":6.9,"e":0.975},{"s":"Sahara W","w":7.1,"e":0.976},{"s":"Sahara W","w":7.3,"e":0.976},{"s":"Sahara W","w":7.5,"e":0.975},{"s":"Sahara W","w":7.7,"e":0.974},{"s":"Sahara W","w":7.84,"e":0.968},{"s":"Sahara W","w":7.92,"e":0.951},{"s":"Sahara W","w":8.04,"e":0.906},{"s":"Sahara W","w":8.12,"e":0.898},{"s":"Sahara W","w":8.2,"e":0.885},{"s":"Sahara W","w":8.28,"e":0.871},{"s":"Sahara W","w":8.43,"e":0.864},{"s":"Sahara W","w":8.55,"e":0.858},{"s":"Sahara W","w":8.6,"e":0.868},{"s":"Sahara W","w":8.65,"e":0.887},{"s":"Sahara W","w":8.69,"e":0.875},{"s":"Sahara W","w":8.75,"e":0.861},{"s":"Sahara W","w":8.91,"e":0.845},{"s":"Sahara W","w":9.06,"e":0.84},{"s":"Sahara W","w":9.22,"e":0.834},{"s":"Sahara W","w":9.3,"e":0.838},{"s":"Sahara W","w":9.38,"e":0.857},{"s":"Sahara W","w":9.45,"e":0.878},{"s":"Sahara W","w":9.61,"e":0.892},{"s":"Sahara W","w":9.77,"e":0.901},{"s":"Sahara W","w":10.0,"e":0.908},{"s":"Sahara W","w":10.3,"e":0.918},{"s":"Sahara W","w":10.55,"e":0.924},{"s":"Sahara W","w":11.0,"e":0.937},{"s":"Sahara W","w":11.5,"e":0.952},{"s":"Sahara W","w":12.0,"e":0.968},{"s":"Sahara W","w":12.27,"e":0.973},{"s":"Sahara W","w":12.4,"e":0.963},{"s":"Sahara W","w":12.55,"e":0.956},{"s":"Sahara W","w":12.8,"e":0.951},{"s":"Sahara W","w":12.95,"e":0.954},{"s":"Sahara W","w":13.3,"e":0.961},{"s":"Sahara W","w":13.7,"e":0.965},{"s":"Sahara W","w":14.05,"e":0.968}
],
"guides": [{"w":3.81},{"w":4.0},{"w":4.09},{"w":8.57},{"w":11.0},{"w":12.02}]
},
"spacing": 6,
"resolve": {"scale": {"color": "independent", "x": "independent", "y": "independent"}, "legend": {"color": "independent"}},
"hconcat": [
{
  "width": 446, "height": 281,
  "title": "Baseline Fit Method Spectra for August, selected locations",
  "data": {"name": "base"},
  "resolve": {"axis": {"x": "independent", "y": "independent"}},
  "layer": [
    {
      "mark": {"type": "line", "strokeWidth": 1, "clip": true},
      "encoding": {
        "x": {"field": "w", "type": "quantitative", "scale": {"domain": [3.61, 14.28], "nice": false, "zero": false}, "axis": {"title": "Wavelength \u00b5m", "values": [4,5,6,7,8,9,10,11,12,13,14], "titlePadding": 2}},
        "y": {"field": "e", "type": "quantitative", "scale": {"domain": [0.7, 1], "nice": false, "zero": false}, "axis": {"title": "Emissivity", "values": [0.7,0.75,0.8,0.85,0.9,0.95,1], "format": ".2~f", "titlePadding": 9}},
        "color": {"field": "s", "type": "nominal", "sort": null,
          "scale": {"domain": ["Greenland","Siberia","Antarctica","Sahara East","Alaska","Amazon N","Amazon S","Wisconsin","Australia","Sahara W"],
                    "range": ["#1ee8e8","#111111","#3050ff","#22e622","#ff5a3c","#333333","#3050ff","#22e622","#ff40ff","#1ee8e8"]},
          "legend": {"title": null, "orient": "none", "legendX": 343, "legendY": 143, "strokeColor": "#262626", "fillColor": "white", "padding": 3, "symbolSize": 64, "symbolStrokeWidth": 1, "labelOffset": 13, "rowPadding": 0, "symbolOffset": 14,
            "encode": {"symbols": {"update": {
              "fill": {"value": "transparent"},
              "shape": {"signal": "{'Greenland':'M-3.75,0H3.75M0,-0.8V0.8','Siberia':'M-3.75,0H3.75M0,-0.8V0.8M-0.6,-0.6L0.6,0.6M-0.6,0.6L0.6,-0.6','Antarctica':'M-3.75,0H3.75M-0.6,-0.6L0.6,0.6M-0.6,0.6L0.6,-0.6M0,-0.8V0.8','Sahara East':'M-3.75,0H-0.8M0.8,0H3.75M0.8,0A0.8,0.8 0 1,1 -0.8,0A0.8,0.8 0 1,1 0.8,0','Alaska':'M-3.75,0H3.75M0,-0.8L0.8,0L0,0.8L-0.8,0Z','Amazon N':'M-3.75,0H3.75M0.3,0A0.3,0.3 0 1,1 -0.3,0A0.3,0.3 0 1,1 0.3,0','Amazon S':'M-3.75,0H3.75M0,-0.8L0.8,0L0,0.8L-0.8,0Z','Wisconsin':'M-3.75,0H3.75M0,-0.8V0.8M-0.6,-0.6L0.6,0.6M-0.6,0.6L0.6,-0.6','Australia':'M-3.75,0H3.75M-0.6,-0.6L0.6,0.6M-0.6,0.6L0.6,-0.6','Sahara W':'M-3.75,0H-0.8M0.8,0H3.75M0.8,0A0.8,0.8 0 1,1 -0.8,0A0.8,0.8 0 1,1 0.8,0'}[datum.value]"},
              "strokeWidth": {"signal": "indexof(['Sahara East','Amazon N','Wisconsin','Sahara W'], datum.value) >= 0 ? 2 : 1"}
            }}}
          }
        }
      }
    },
    {
      "mark": {"type": "point", "filled": false, "size": 30, "strokeWidth": 1, "clip": true, "opacity": 1},
      "encoding": {
        "x": {"field": "w", "type": "quantitative", "scale": {"domain": [3.61, 14.28], "nice": false, "zero": false}, "axis": null},
        "y": {"field": "e", "type": "quantitative", "scale": {"domain": [0.7, 1], "nice": false, "zero": false}, "axis": null},
        "color": {"field": "s", "type": "nominal", "sort": null, "legend": null},
        "shape": {"field": "s", "type": "nominal", "sort": null, "legend": null,
          "scale": {"domain": ["Greenland","Siberia","Antarctica","Sahara East","Alaska","Amazon N","Amazon S","Wisconsin","Australia","Sahara W"],
            "range": ["M0,-1V1M-1,0H1","M0,-1V1M-1,0H1M-0.7,-0.7L0.7,0.7M-0.7,0.7L0.7,-0.7","M-0.7,-0.7L0.7,0.7M-0.7,0.7L0.7,-0.7M0,-0.8V0.8","circle","diamond","M0.4,0A0.4,0.4 0 1,1 -0.4,0A0.4,0.4 0 1,1 0.4,0","diamond","M0,-1V1M-1,0H1M-0.7,-0.7L0.7,0.7M-0.7,0.7L0.7,-0.7","M-0.7,-0.7L0.7,0.7M-0.7,0.7L0.7,-0.7","circle"]}}
      }
    },
    {
      "mark": {"type": "line", "opacity": 0, "clip": true},
      "encoding": {
        "x": {"field": "w", "type": "quantitative", "scale": {"domain": [3.61, 14.28], "nice": false, "zero": false}, "axis": {"orient": "top", "labels": false, "title": null, "values": [4,5,6,7,8,9,10,11,12,13,14]}},
        "y": {"field": "e", "type": "quantitative", "scale": {"domain": [0.7, 1], "nice": false, "zero": false}, "axis": {"orient": "right", "labels": false, "title": null, "values": [0.7,0.75,0.8,0.85,0.9,0.95,1]}}
      }
    }
  ]
},
{
  "width": 444, "height": 286,
  "title": "PCA Method Spectra for 2003August, selected locations \u00a0\u00a0\u00a0\u00a0\u00a0\u00a0npc= 4 \u00a0\u00a0\u00a0\u00a0ln",
  "resolve": {"axis": {"x": "independent", "y": "independent"}},
  "layer": [
    {
      "data": {"name": "guides"},
      "mark": {"type": "rule", "strokeDash": [1, 2], "color": "#666666", "strokeWidth": 1},
      "encoding": {
        "x": {"field": "w", "type": "quantitative", "scale": {"domain": [3.62, 14.05], "nice": false, "zero": false}, "axis": {"title": "Wavelength \u00b5m", "values": [4,5,6,7,8,9,10,11,12,13,14], "titlePadding": 2}}
      }
    },
    {
      "data": {"name": "pca"},
      "mark": {"type": "line", "strokeWidth": 1, "clip": true},
      "encoding": {
        "x": {"field": "w", "type": "quantitative", "scale": {"domain": [3.62, 14.05], "nice": false, "zero": false}, "axis": null},
        "y": {"field": "e", "type": "quantitative", "scale": {"domain": [0.7, 1], "nice": false, "zero": false}, "axis": {"title": null, "values": [0.7,0.75,0.8,0.85,0.9,0.95,1], "format": ".2~f"}},
        "color": {"field": "s", "type": "nominal", "sort": null,
          "scale": {"domain": ["Greenland","Siberia","Antarctica","Sahara East","Alaska","Amazon N","Amazon S","Wisconsin","Australia","Sahara W"],
                    "range": ["#1ee8e8","#111111","#3050ff","#22e622","#ff5a3c","#555555","#3050ff","#22e622","#ff40ff","#1ee8e8"]},
          "legend": {"title": null, "orient": "none", "legendX": 345, "legendY": 163, "strokeColor": "#262626", "fillColor": "white", "padding": 4, "symbolSize": 64, "symbolStrokeWidth": 1, "labelOffset": 11, "rowPadding": 1.5, "symbolOffset": 14,
            "encode": {"symbols": {"update": {
              "fill": {"value": "transparent"},
              "shape": {"value": "M-4.25,0H4.25"},
              "strokeDash": {"signal": "indexof(['Amazon N','Amazon S','Wisconsin','Sahara W'], datum.value) >= 0 ? [6,3] : [1,0]"},
              "strokeWidth": {"signal": "datum.value == 'Alaska' ? 2.5 : 1"},
              "opacity": {"signal": "datum.value == 'Alaska' ? 0.55 : 1"}
            }}}
          }
        },
        "strokeDash": {"field": "s", "type": "nominal", "sort": null, "legend": null,
          "scale": {"domain": ["Greenland","Siberia","Antarctica","Sahara East","Alaska","Amazon N","Amazon S","Wisconsin","Australia","Sahara W"],
                    "range": [[1,0],[1,0],[1,0],[1,0],[1,0],[6,3],[6,3],[6,3],[1,0],[6,3]]}}
      }
    },
    {
      "data": {"name": "pca"},
      "mark": {"type": "line", "opacity": 0, "clip": true},
      "encoding": {
        "x": {"field": "w", "type": "quantitative", "scale": {"domain": [3.62, 14.05], "nice": false, "zero": false}, "axis": {"orient": "top", "labels": false, "title": null, "values": [4,5,6,7,8,9,10,11,12,13,14]}},
        "y": {"field": "e", "type": "quantitative", "scale": {"domain": [0.7, 1], "nice": false, "zero": false}, "axis": {"orient": "right", "labels": false, "title": null, "values": [0.7,0.75,0.8,0.85,0.9,0.95,1]}}
      }
    }
  ]
}
]
}
